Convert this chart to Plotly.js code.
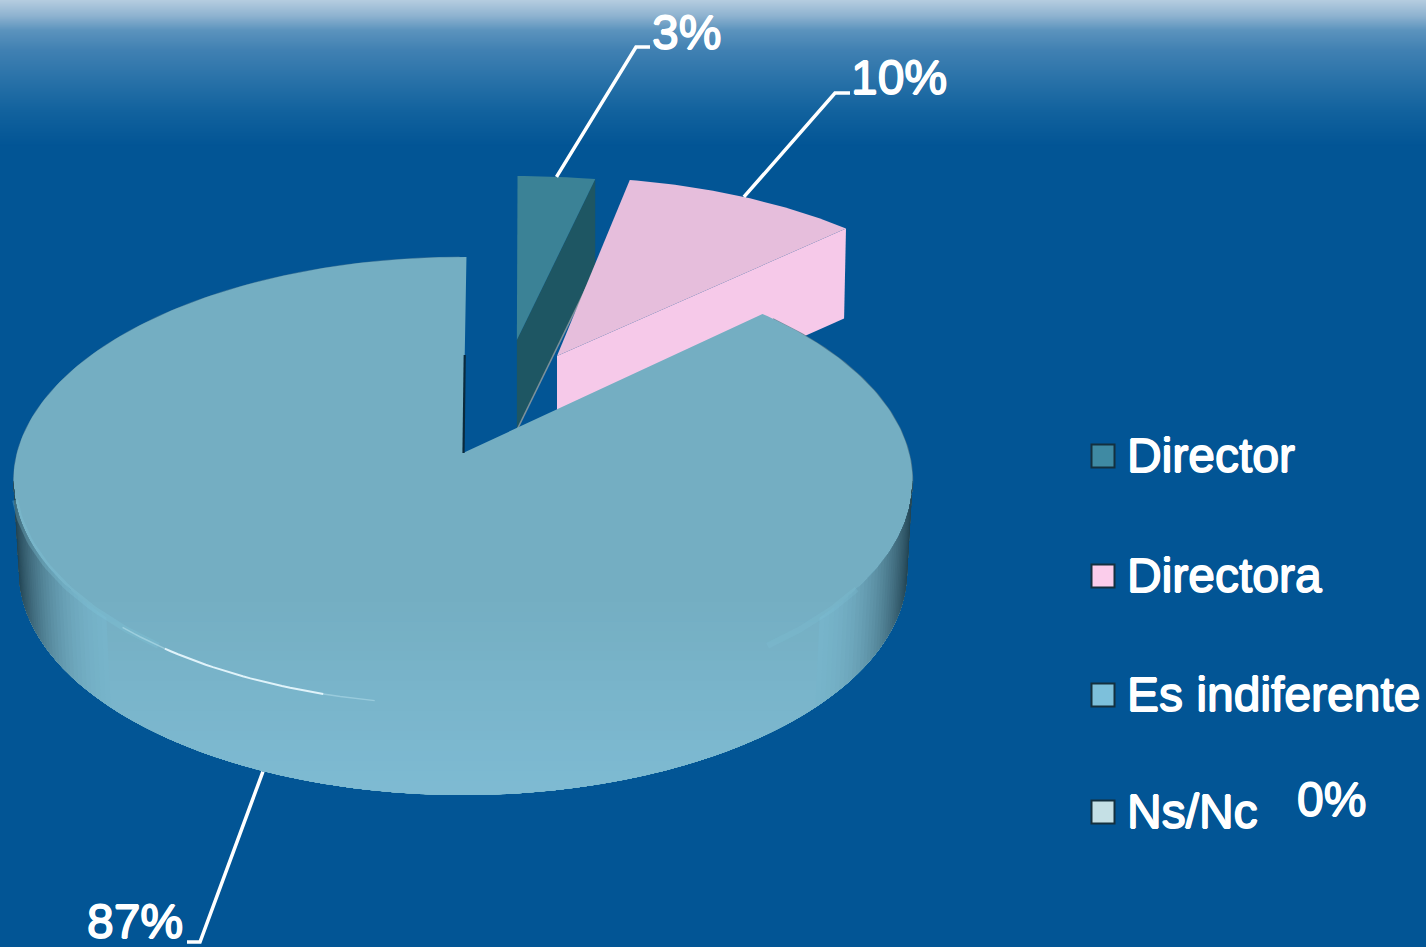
<!DOCTYPE html>
<html><head><meta charset="utf-8">
<script src="https://cdn.plot.ly/plotly-3.0.1.min.js"></script>
<style>html,body{margin:0;padding:0;background:#025595;overflow:hidden}</style>
</head><body><div id="chart" style="width:1426px;height:947px"></div>
<script>
// ---- data ----
const categories = ['Director', 'Directora', 'Es indiferente', 'Ns/Nc'];
const shares = [3, 10, 87, 0];

// ---- styles and geometry ----
const topColors = ['#3B8296', '#E6BEDC', '#74AEC2', '#C5E0E5'];
const sideColors = ['#1E5663', '#F6C9E9', '#74AEC2', '#C5E0E5'];
const swatchColors = ['#3F8AA3', '#FBCDEB', '#7DC0DB', '#C5E0E5'];
const bg = '#025595', W = 1426, H = 947;
const view = {cx: 463, cy: 453, A: 446, B: 220.5, k: 0.125, depth: 90};
const rimPull = [[0.145, 0.39], [0.255, 0.482], [0, 0], [0, 0]];
const rimScale = [1.1, 1, 1, 1];
const apexPull = [[0.129, 0.547], [0.223, 0.466], [0, 0], [0, 0]];
const labelSpots = [[686, 32], [899, 77], [135, 921], [1331, 799]];
const legendRows = [455, 575, 694, 811];
const leaderKnees = [[[636, 47], [650, 47]], [[835, 93], [850, 93]], [[200, 942], [187, 942]], null];
const gradientStops = [[0, [180, 204, 223]], [15, [143, 179, 208]], [30, [91, 147, 189]], [50, [64, 128, 178]], [80, [40, 113, 168]], [110, [18, 98, 158]], [145, [2, 85, 149]]];

// ---- helpers ----
const rad = d => d * Math.PI / 180;
function project(u, v) {
  const w = 1 + view.k * v;
  return [view.cx + view.A * u / w, view.cy - view.B * v / w];
}
function rimPoint(deg, pull, scale) {
  const s = scale || 1;
  return project(pull[0] + s * Math.sin(rad(deg)), pull[1] + s * Math.cos(rad(deg)));
}
function arc(a0, a1, pull, step, scale) {
  const n = Math.max(2, Math.ceil(Math.abs(a1 - a0) / (step || 1)));
  const out = [];
  for (let i = 0; i <= n; i++) out.push(rimPoint(a0 + (a1 - a0) * i / n, pull, scale));
  return out;
}
const drop = (p, scale) => [view.cx + (p[0] - view.cx) * (scale || 1), p[1] + view.depth];
function poly(points, color, name) {
  const x = points.map(p => p[0]).concat(points[0][0]);
  const y = points.map(p => p[1]).concat(points[0][1]);
  return {type: 'scatter', mode: 'lines', x, y, fill: 'toself', fillcolor: color,
    line: {width: 0, color}, hoverinfo: 'skip', showlegend: false, name: name || ''};
}
function stroke(points, color, width) {
  return {type: 'scatter', mode: 'lines', x: points.map(p => p[0]), y: points.map(p => p[1]),
    line: {color, width}, hoverinfo: 'skip', showlegend: false};
}
const mix = (a, b, t) => a.map((v, j) => Math.round(v + (b[j] - v) * t));
const rgb = c => `rgb(${c.join(',')})`;

// ---- angles from the shares ----
let cum = 0;
const starts = [], ends = [];
shares.forEach(s => { starts.push(cum * 3.6); cum += s; ends.push(cum * 3.6); });

const traces = [];
const apexOf = i => project(apexPull[i][0], apexPull[i][1]);

// Director
{
  const i = 0, rim = arc(starts[i], ends[i], rimPull[i], 1, rimScale[i]), apex = apexOf(i), last = rim[rim.length - 1];
  traces.push(poly([last, drop(last), drop(apex), apex], sideColors[i]));
  traces.push(stroke([drop(last), drop(apex)], 'rgba(160,165,165,.75)', 1.5));
  traces.push(poly([apex].concat(rim), topColors[i], categories[i]));
}
// Directora
{
  const i = 1, rim = arc(starts[i], ends[i], rimPull[i]), apex = apexOf(i), last = rim[rim.length - 1];
  traces.push(poly([apex, drop(apex), drop(last, 0.995), last], sideColors[i]));
  traces.push(poly([apex].concat(rim), topColors[i], categories[i]));
}
// Es indiferente
{
  const i = 2, none = [0, 0];
  const endA = ends[i] + 0.5;
  const frontA0 = 97, frontA1 = 263;
  const topFront = arc(frontA0, frontA1, none);
  const bottom = topFront.map(p => drop(p, 0.988));
  traces.push(poly(topFront.concat(bottom.slice().reverse()), sideColors[i]));
  const rim = arc(starts[i], endA, none);
  traces.push(stroke(arc(starts[i] + 2, 100, none), 'rgba(90,125,140,.8)', 1.4));
  traces.push(stroke(arc(260, endA - 1, none), 'rgba(95,130,145,.55)', 1));
  traces.push(poly([[view.cx, view.cy]].concat(rim), topColors[i], categories[i]));
  const mid = rimPoint(endA, none);
  traces.push(stroke([[view.cx + (mid[0] - view.cx) * 0.5, (mid[1] + view.cy) / 2], [view.cx + 0.5, view.cy]], '#0B2A3C', 2.2));
  // gradually lighter lower bands
  const c0 = [116, 174, 194], c1 = [126, 187, 211];
  for (let t = 590; t < 790; t += 10) {
    const pts = arc(frontA0, frontA1, none, 0.5).map(p => drop(p, 0.988)).filter(p => p[1] > t);
    traces.push(poly(pts, rgb(mix(c0, c1, (t - 590) / 200))));
  }
  // shaded side toward both ends: nested bands, light to dark, so no seams
  const dark = [16, 44, 58], lit = [120, 181, 203];
  const band = (a, b) => {
    const tp = arc(a, b, none, 0.5);
    return tp.concat(tp.map(p => drop(p, 0.988)).reverse());
  };
  for (let off = 45; off > 0; off -= 1) {
    const aL = frontA1 - off, aR = frontA0 + off;
    const xL = drop(rimPoint(aL, none), 0.988)[0], xR = drop(rimPoint(aR, none), 0.988)[0];
    const shadeL = Math.pow(Math.max(0, 1 - (xL - 18) / 120), 3) * 0.85;
    const shadeR = Math.pow(Math.max(0, 1 - (908 - xR) / 120), 3) * 0.85;
    if (shadeL > 0.01) traces.push(poly(band(aL, frontA1), rgb(mix(lit, dark, shadeL))));
    if (shadeR > 0.01) traces.push(poly(band(frontA0, aR), rgb(mix(lit, dark, shadeR))));
  }
  // soft rim glow and bright glint
  traces.push(stroke(arc(218, 258, none), 'rgba(130,200,220,.3)', 6));
  traces.push(stroke(arc(125, 142, none), 'rgba(130,200,220,.2)', 6));
  traces.push(stroke(arc(190, 196, none), 'rgba(200,235,245,.4)', 1.5));
  traces.push(stroke(arc(217, 224, none), 'rgba(200,235,245,.45)', 1.5));
  traces.push(stroke(arc(196, 217, none), 'rgba(235,250,255,.9)', 2));
}
// Leaders
shares.forEach((s, i) => {
  if (!leaderKnees[i]) return;
  const p = rimPoint((starts[i] + ends[i]) / 2, rimPull[i], rimScale[i]);
  const start = i === 2 ? drop(p, 1) : p;
  traces.push(stroke([start].concat(leaderKnees[i]), '#FFFFFF', 3.5));
});
// Legend swatches
categories.forEach((c, i) => {
  traces.push({type: 'scatter', mode: 'markers', x: [1103], y: [legendRows[i] + 1], name: c,
    marker: {symbol: 'square', size: 23, color: swatchColors[i], line: {color: '#14303F', width: 2}},
    hoverinfo: 'skip', showlegend: false});
});

// Background gradient as thin strips
const shapes = [];
for (let s = 0; s < gradientStops.length - 1; s++) {
  const [y0, c0] = gradientStops[s], [y1, c1] = gradientStops[s + 1];
  for (let y = y0; y < y1; y++) {
    const c = mix(c0, c1, (y - y0) / (y1 - y0));
    shapes.push({type: 'rect', xref: 'paper', yref: 'y', x0: 0, x1: 1, y0: y, y1: y + 1.5, layer: 'below',
      fillcolor: rgb(c), line: {width: 0}});
  }
}

const heavy = '0.8px 0 0 #fff, -0.8px 0 0 #fff, 0 0.6px 0 #fff, 0 -0.6px 0 #fff';
const textFont = {family: '"Liberation Sans", Arial, sans-serif', size: 48, color: '#FFFFFF', shadow: heavy};
const annotations = shares.map((s, i) => ({
  text: s + '%', x: labelSpots[i][0], y: labelSpots[i][1], xref: 'x', yref: 'y',
  xanchor: 'center', yanchor: 'middle', showarrow: false, font: textFont
})).concat(categories.map((c, i) => ({
  text: c, x: 1126, y: legendRows[i], xref: 'x', yref: 'y',
  xanchor: 'left', yanchor: 'middle', showarrow: false, font: textFont, borderpad: 0
})));

Plotly.newPlot('chart', traces, {
  width: W, height: H, autosize: false,
  margin: {l: 0, r: 0, t: 0, b: 0, pad: 0},
  paper_bgcolor: bg, plot_bgcolor: 'rgba(0,0,0,0)',
  xaxis: {range: [0, W], visible: false, fixedrange: true},
  yaxis: {range: [H, 0], visible: false, fixedrange: true},
  showlegend: false,
  shapes, annotations
}, {displayModeBar: false, staticPlot: true});
</script></body></html>
